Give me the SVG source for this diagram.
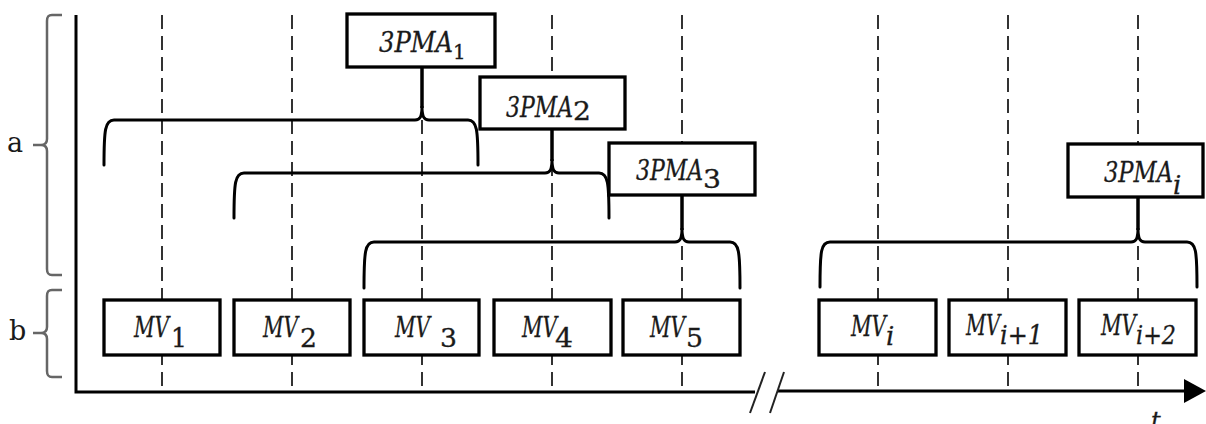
<svg xmlns="http://www.w3.org/2000/svg" width="1206" height="424" viewBox="0 0 1206 424">
<defs>
<style>
.dash{stroke:#000;stroke-width:1.6;stroke-dasharray:14 7;fill:none}
.axis{stroke:#000;stroke-width:3;fill:none}
.brace{stroke:#000;stroke-width:3;fill:none;stroke-linecap:round}
.spike{stroke:#000;stroke-width:3.5;fill:none}
.gbrace{stroke:#666;stroke-width:2.5;fill:none}
.box{fill:#fff;stroke:#000;stroke-width:3.3}
.it{font-family:"DejaVu Serif",serif;font-style:italic;fill:#1a1a1a;stroke:#1a1a1a;stroke-width:0.3}
.rm{font-family:"DejaVu Serif",serif;fill:#1a1a1a;stroke:#1a1a1a;stroke-width:0.3}
.mv{font-size:27px}
.pm{font-size:28px}
.sd{font-size:26px}
.ss{font-size:20px}
.lbl{font-family:"DejaVu Serif",serif;font-size:27px;fill:#1a1a1a}
</style>
</defs>
<rect width="1206" height="424" fill="#fff"/>
<g id="gridlines">
<line class="dash" x1="162" y1="15" x2="162" y2="392"/>
<line class="dash" x1="292" y1="15" x2="292" y2="392"/>
<line class="dash" x1="422" y1="15" x2="422" y2="392"/>
<line class="dash" x1="552" y1="15" x2="552" y2="392"/>
<line class="dash" x1="682" y1="15" x2="682" y2="392"/>
<line class="dash" x1="878" y1="15" x2="878" y2="391"/>
<line class="dash" x1="1008" y1="15" x2="1008" y2="391"/>
<line class="dash" x1="1138" y1="15" x2="1138" y2="391"/>
</g>
<g id="axes">
<path class="axis" d="M76,15 L76,392 L755,392"/>
<path class="axis" d="M778,391 L1186,391"/>
<polygon points="1184,379 1206,391 1184,403" fill="#000"/>
<line x1="750" y1="413" x2="765" y2="372" stroke="#222" stroke-width="2"/>
<line x1="770" y1="413" x2="784" y2="372" stroke="#222" stroke-width="2"/>
<text class="it" x="1151" y="429" style="font-size:24px">t</text>
</g>
<g id="side-braces">
<path class="gbrace" d="M62,15 L52,15 C48,15 47,17 47,21 L47,139 C47,143 45,145 41,145 L33,145 M41,145 C45,145 47,147 47,151 L47,269 C47,273 48,275 52,275 L62,275"/>
<path class="gbrace" d="M62,290 L52,290 C48,290 47,292 47,296 L47,327 C47,331 45,333 41,333 L33,333 M41,333 C45,333 47,335 47,339 L47,371 C47,375 48,377 52,377 L62,377"/>
<text class="lbl" x="7" y="152">a</text>
<text class="lbl" x="9" y="340">b</text>
</g>
<g id="connectors">
<path class="brace" d="M104,165 C104,130 105,120 114,120 L415,120 C420,120 422,117 422,106 C422,117 424,120 429,120 L468,120 C477,120 478,130 478,165"/>
<line class="spike" x1="422" y1="108" x2="422" y2="67"/>
<path class="brace" d="M234,218 C234,183 235,173 244,173 L545,173 C550,173 552,170 552,159 C552,170 554,173 559,173 L599,173 C608,173 609,183 609,218"/>
<line class="spike" x1="552" y1="161" x2="552" y2="129"/>
<path class="brace" d="M364,288 C364,252 365,242 374,242 L675,242 C680,242 682,239 682,228 C682,239 684,242 689,242 L730,242 C739,242 740,252 740,288"/>
<line class="spike" x1="682" y1="230" x2="682" y2="195"/>
<path class="brace" d="M820,287 C820,251 821,242 830,242 L1131,242 C1136,242 1138,239 1138,228 C1138,239 1140,242 1145,242 L1187,242 C1196,242 1197,251 1197,287"/>
<line class="spike" x1="1138" y1="230" x2="1138" y2="197"/>
</g>
<g id="zpma1">
<rect class="box" x="347" y="14" width="148" height="53"/>
<text class="it pm" x="379" y="52" textLength="74" lengthAdjust="spacingAndGlyphs">3PMA</text>
<text class="rm ss" x="453" y="59">1</text>
</g>
<g id="zpma2">
<rect class="box" x="480" y="77" width="145" height="52"/>
<text class="it pm" x="506" y="117" textLength="67" lengthAdjust="spacingAndGlyphs">3PMA</text>
<text class="rm sd" x="573" y="120" textLength="18" lengthAdjust="spacingAndGlyphs">2</text>
</g>
<g id="zpma3">
<rect class="box" x="609" y="143" width="146" height="52"/>
<text class="it pm" x="636" y="180" textLength="67" lengthAdjust="spacingAndGlyphs">3PMA</text>
<text class="rm sd" x="703" y="188" textLength="18" lengthAdjust="spacingAndGlyphs">3</text>
</g>
<g id="zpmai">
<rect class="box" x="1068" y="144" width="135" height="53"/>
<text class="it pm" x="1104" y="182" textLength="69" lengthAdjust="spacingAndGlyphs">3PMA</text>
<text class="it sd" x="1173" y="194">i</text>
</g>
<g id="mv1">
<rect class="box" x="104" y="300" width="116" height="55"/>
<text class="it mv" x="134" y="337" textLength="35" lengthAdjust="spacingAndGlyphs">MV</text>
<text class="rm sd" x="171" y="347" textLength="16" lengthAdjust="spacingAndGlyphs">1</text>
</g>
<g id="mv2">
<rect class="box" x="234" y="300" width="116" height="55"/>
<text class="it mv" x="263" y="337" textLength="35" lengthAdjust="spacingAndGlyphs">MV</text>
<text class="rm sd" x="300" y="347" textLength="17" lengthAdjust="spacingAndGlyphs">2</text>
</g>
<g id="mv3">
<rect class="box" x="364" y="300" width="115" height="55"/>
<text class="it mv" x="395" y="337" textLength="35" lengthAdjust="spacingAndGlyphs">MV</text>
<text class="rm sd" x="440" y="347" textLength="17" lengthAdjust="spacingAndGlyphs">3</text>
</g>
<g id="mv4">
<rect class="box" x="494" y="300" width="117" height="55"/>
<text class="it mv" x="522" y="337" textLength="35" lengthAdjust="spacingAndGlyphs">MV</text>
<text class="rm sd" x="555" y="347" textLength="18" lengthAdjust="spacingAndGlyphs">4</text>
</g>
<g id="mv5">
<rect class="box" x="623" y="300" width="117" height="55"/>
<text class="it mv" x="650" y="337" textLength="35" lengthAdjust="spacingAndGlyphs">MV</text>
<text class="rm sd" x="686" y="347" textLength="17" lengthAdjust="spacingAndGlyphs">5</text>
</g>
<g id="mvi">
<rect class="box" x="819" y="300" width="117" height="55"/>
<text class="it mv" x="851" y="336" textLength="35" lengthAdjust="spacingAndGlyphs">MV</text>
<text class="it sd" x="886" y="345">i</text>
</g>
<g id="mvi1">
<rect class="box" x="949" y="300" width="117" height="55"/>
<text class="it mv" x="966" y="335" textLength="34" lengthAdjust="spacingAndGlyphs">MV</text>
<text class="it sd" x="1000" y="344" textLength="43" lengthAdjust="spacingAndGlyphs">i+1</text>
</g>
<g id="mvi2">
<rect class="box" x="1079" y="300" width="117" height="55"/>
<text class="it mv" x="1101" y="335" textLength="35" lengthAdjust="spacingAndGlyphs">MV</text>
<text class="it sd" x="1136" y="344" textLength="40" lengthAdjust="spacingAndGlyphs">i+2</text>
</g>
</svg>
